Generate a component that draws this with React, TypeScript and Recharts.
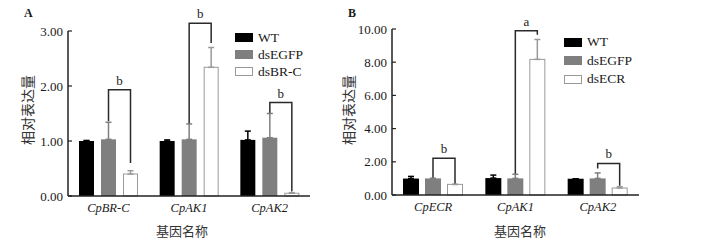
import React from 'react';
import { BarChart, Bar, XAxis, YAxis, ErrorBar, Legend } from 'recharts';

// ---------- Panel A data ----------
const genesA = ['CpBR-C', 'CpAK1', 'CpAK2'];
const wtA = [1.0, 1.0, 1.02];
const wtErrA = [0.01, 0.02, 0.16];
const egfpA = [1.03, 1.03, 1.06];
const egfpErrA = [0.31, 0.28, 0.44];
const dsA = [0.4, 2.34, 0.05];
const dsErrA = [0.06, 0.36, 0.01];
const bracketTopA = [1.93, 3.14, 1.7];
const bracketLeftA = [1.36, 1.31, 1.5];
const bracketRightA = [0.6, 2.78, 0.08];
const sigA = ['b', 'b', 'b'];
const ticksA = [0, 1, 2, 3];
const seriesA = ['WT', 'dsEGFP', 'dsBR-C'];

// ---------- Panel B data ----------
const genesB = ['CpECR', 'CpAK1', 'CpAK2'];
const wtB = [0.99, 1.02, 0.98];
const wtErrB = [0.13, 0.18, 0];
const egfpB = [1.0, 1.0, 1.0];
const egfpErrB = [0, 0.25, 0.33];
const dsB = [0.64, 8.17, 0.42];
const dsErrB = [0, 1.2, 0.08];
const bracketTopB = [2.22, 9.9, 1.9];
const bracketLeftB = [1.0, 1.27, 1.6];
const bracketRightB = [0.64, 9.65, 0.55];
const sigB = ['b', 'a', 'b'];
const ticksB = [0, 2, 4, 6, 8, 10];
const seriesB = ['WT', 'dsEGFP', 'dsECR'];

const buildRows = (
  genes: string[], wt: number[], wtE: number[], eg: number[], egE: number[],
  ds: number[], dsE: number[], top: number[], left: number[], right: number[], sig: string[]
) =>
  genes.map((g, i) => ({
    gene: g,
    wt: wt[i], wtErr: [0, wtE[i]],
    egfp: eg[i], egfpErr: [0, egE[i]],
    ds: ds[i], dsErr: [0, dsE[i]],
    bTop: top[i], bLeft: left[i], bRight: right[i], sig: sig[i],
  }));

const dataA = buildRows(genesA, wtA, wtErrA, egfpA, egfpErrA, dsA, dsErrA, bracketTopA, bracketLeftA, bracketRightA, sigA);
const dataB = buildRows(genesB, wtB, wtErrB, egfpB, egfpErrB, dsB, dsErrB, bracketTopB, bracketLeftB, bracketRightB, sigB);

const SERIF = '"Liberation Serif", "Times New Roman", serif';
const CJK = '"Noto Sans CJK SC", sans-serif';
const AXIS = '#222';
const GRAY = '#7f7f7f';
const WHITE_STROKE = '#9a9a9a';
const TEXT = '#1a1a1a';

const makeShape = (gap: number) => (props: any) => {
  const { x, y, width, height, payload } = props;
  const v = payload.ds;
  const base = y + height;
  const ppu = height / v;
  const cx = x + width / 2;
  const lx = cx - width - gap;
  const ty = base - payload.bTop * ppu;
  const ly = base - payload.bLeft * ppu;
  const ry = base - payload.bRight * ppu;
  return (
    <g>
      <rect x={x + 0.5} y={y} width={width - 1} height={height} fill="#fff" stroke={WHITE_STROKE} strokeWidth={1} />
      <path d={`M${lx},${ly} L${lx},${ty} L${cx},${ty} L${cx},${ry}`} fill="none" stroke="#2a2a2a" strokeWidth={1.5} />
      <text x={(lx + cx) / 2} y={ty - 5} textAnchor="middle" fontFamily={SERIF} fontSize={13} fill={TEXT}>
        {payload.sig}
      </text>
    </g>
  );
};

const LegendBox = ({ names, gapY }: { names: string[]; gapY: number }) => {
  const fills = ['#000', GRAY, '#fff'];
  return (
    <div>
      {names.map((n, i) => (
        <div key={n} style={{ display: 'flex', alignItems: 'center', height: gapY }}>
          <div
            style={{
              width: 18, height: 9, background: fills[i], boxSizing: 'border-box',
              border: i === 2 ? `1px solid ${WHITE_STROKE}` : 'none', marginRight: 5,
            }}
          />
          <span style={{ fontFamily: SERIF, fontSize: 13.5, color: TEXT, lineHeight: '14px' }}>{n}</span>
        </div>
      ))}
    </div>
  );
};

const fmt = (v: number) => v.toFixed(2);

interface PanelProps {
  data: any[];
  ticks: number[];
  max: number;
  names: string[];
  width: number;
  yAxisWidth: number;
  marginRight: number;
  top: number;
  bottom: number;
  barSize: number;
  barGap: number;
  legendLeft: number;
  legendTop: number;
  legendGap: number;
}

const Panel = (p: PanelProps) => (
  <BarChart
    width={p.width}
    height={243}
    data={p.data}
    margin={{ top: p.top, right: p.marginRight, left: 0, bottom: 0 }}
    barSize={p.barSize}
    barGap={p.barGap}
  >
    <XAxis
      dataKey="gene"
      height={243 - p.bottom}
      tickLine={false}
      axisLine={{ stroke: AXIS, strokeWidth: 1.5 }}
      tick={{ fontFamily: SERIF, fontSize: 12.5, fontStyle: 'italic', fill: TEXT }}
      tickMargin={1}
      interval={0}
    />
    <YAxis
      width={p.yAxisWidth}
      domain={[0, p.max]}
      ticks={p.ticks}
      tickFormatter={fmt}
      axisLine={{ stroke: AXIS, strokeWidth: 1.5 }}
      tickLine={{ stroke: AXIS, strokeWidth: 1.2 }}
      tickSize={-4}
      tickMargin={9}
      tick={{ fontFamily: SERIF, fontSize: 13, fill: TEXT }}
    />
    <Legend
      verticalAlign="middle"
      align="center"
      layout="vertical"
      wrapperStyle={{ position: 'absolute', left: p.legendLeft, top: p.legendTop, width: 110 }}
      content={() => <LegendBox names={p.names} gapY={p.legendGap} />}
    />
    <Bar dataKey="wt" name={p.names[0]} fill="#000" isAnimationActive={false}>
      <ErrorBar dataKey="wtErr" width={3} stroke="#000" strokeWidth={1.5} direction="y" />
    </Bar>
    <Bar dataKey="egfp" name={p.names[1]} fill={GRAY} isAnimationActive={false}>
      <ErrorBar dataKey="egfpErr" width={3} stroke={GRAY} strokeWidth={1.5} direction="y" />
    </Bar>
    <Bar dataKey="ds" name={p.names[2]} fill="#fff" shape={makeShape(p.barGap)} isAnimationActive={false}>
      <ErrorBar dataKey="dsErr" width={3} stroke={WHITE_STROKE} strokeWidth={1.5} direction="y" />
    </Bar>
  </BarChart>
);

const abs = (left: number, top: number): React.CSSProperties => ({ position: 'absolute', left, top });

export default function App() {
  return (
    <div style={{ position: 'absolute', left: 0, top: 0, width: 721, height: 243, background: '#fff', overflow: 'hidden' }}>
      <div style={abs(0, 0)}>
        <Panel
          data={dataA} ticks={ticksA} max={3} names={seriesA}
          width={360} yAxisWidth={68} marginRight={50} top={31} bottom={196}
          barSize={15} barGap={7}
          legendLeft={235} legendTop={29} legendGap={17}
        />
      </div>
      <div style={abs(330, 0)}>
        <Panel
          data={dataB} ticks={ticksB} max={10} names={seriesB}
          width={391} yAxisWidth={62} marginRight={82} top={29} bottom={195}
          barSize={16} barGap={6}
          legendLeft={234} legendTop={33} legendGap={18.5}
        />
      </div>
      <div style={{ ...abs(24, 6), fontFamily: SERIF, fontSize: 12, fontWeight: 'bold', color: TEXT }}>A</div>
      <div style={{ ...abs(348, 6), fontFamily: SERIF, fontSize: 12, fontWeight: 'bold', color: TEXT }}>B</div>
      <div style={{ ...abs(27, 110), transform: 'translate(-50%, -50%) rotate(-90deg)', fontFamily: CJK, fontSize: 14, color: '#333', whiteSpace: 'nowrap' }}>相对表达量</div>
      <div style={{ ...abs(348, 110), transform: 'translate(-50%, -50%) rotate(-90deg)', fontFamily: CJK, fontSize: 14, color: '#333', whiteSpace: 'nowrap' }}>相对表达量</div>
      <div style={{ ...abs(182, 230), transform: 'translate(-50%, -50%)', fontFamily: CJK, fontSize: 13, color: '#333', whiteSpace: 'nowrap' }}>基因名称</div>
      <div style={{ ...abs(520, 230), transform: 'translate(-50%, -50%)', fontFamily: CJK, fontSize: 13, color: '#333', whiteSpace: 'nowrap' }}>基因名称</div>
    </div>
  );
}
